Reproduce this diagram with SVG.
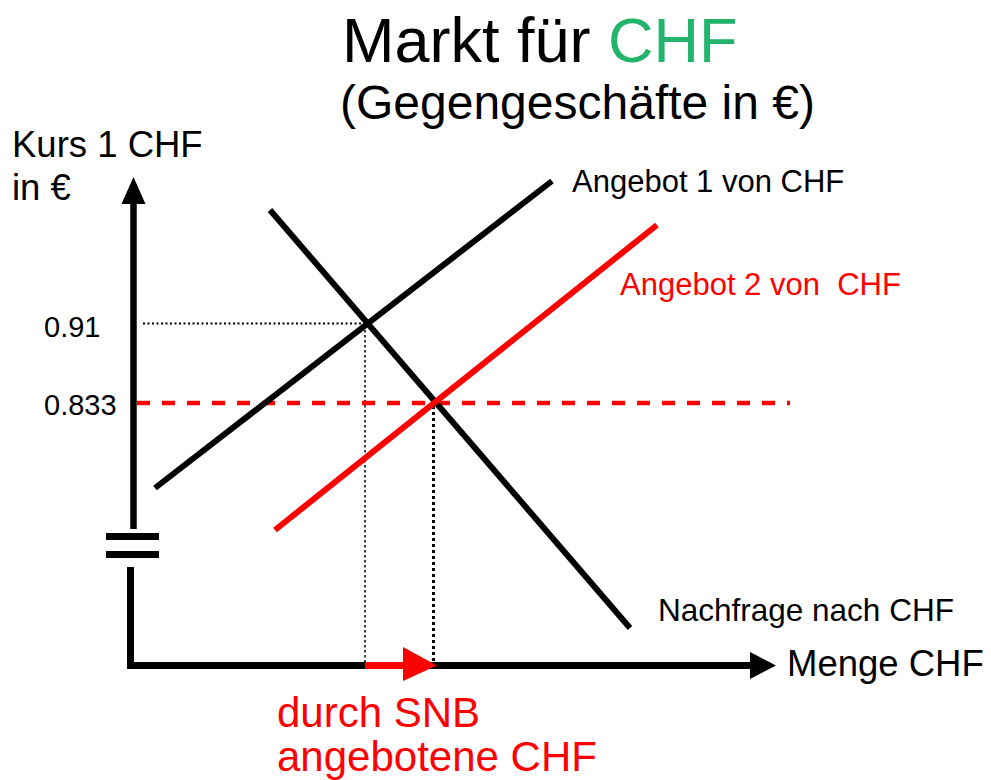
<svg xmlns="http://www.w3.org/2000/svg" width="991" height="780" viewBox="0 0 991 780">
  <style>
    text { font-family: "Liberation Sans", Arial, sans-serif; fill: #000; }
    .red { fill: #FF0000; }
    .green { fill: #22B36C; }
    .curve { stroke: #000; stroke-width: 6; fill: none; }
    .curve-red { stroke: #FF0000; stroke-width: 6; fill: none; }
    .guide { stroke: #000; fill: none; }
  </style>

  <!-- Title -->
  <g id="title">
    <text x="342" y="62" font-size="63">Markt für <tspan class="green">CHF</tspan></text>
    <text x="340" y="119" font-size="48">(Gegengeschäfte in €)</text>
  </g>

  <!-- Axes -->
  <g id="axes">
    <line x1="133.5" y1="200" x2="133.5" y2="529" stroke="#000" stroke-width="6.5"/>
    <polygon points="133.5,177 121.5,204 145.5,204" fill="#000"/>
    <rect x="106" y="533" width="53" height="7" fill="#000"/>
    <rect x="106" y="551" width="53" height="7" fill="#000"/>
    <line x1="130.5" y1="567" x2="130.5" y2="669" stroke="#000" stroke-width="7"/>
    <line x1="127" y1="665.5" x2="752" y2="665.5" stroke="#000" stroke-width="7"/>
    <polygon points="750,652 776,665.5 750,679" fill="#000"/>
  </g>

  <!-- Guide lines -->
  <g id="guides">
    <line class="guide" x1="143" y1="323.5" x2="366" y2="323.5" stroke-width="2" stroke-dasharray="2,2.5"/>
    <line class="guide" x1="365" y1="325" x2="365" y2="662" stroke-width="1.5" stroke-dasharray="2.5,2.5"/>
    <line class="guide" x1="433.5" y1="406" x2="433.5" y2="662" stroke-width="3" stroke-dasharray="3,3"/>
    <line x1="137" y1="403" x2="790" y2="403" stroke="#FF0000" stroke-width="4.5" stroke-dasharray="13,12"/>
  </g>

  <!-- Curves -->
  <g id="connectors">
    <line id="angebot1" class="curve" x1="155" y1="488" x2="552" y2="181"/>
    <line id="nachfrage" class="curve" x1="270" y1="210" x2="630" y2="628"/>
    <line id="angebot2" class="curve-red" x1="275" y1="530" x2="657" y2="225"/>
    <!-- SNB shift along the quantity axis -->
    <rect x="365" y="662" width="40" height="7" fill="#FF0000"/>
    <polygon points="403,647 437,665.5 403,681" fill="#FF0000"/>
  </g>

  <!-- Labels -->
  <g id="labels">
    <text x="12" y="157" font-size="36.5">Kurs 1 CHF</text>
    <text x="12" y="200" font-size="36.5">in €</text>
    <text x="44" y="337" font-size="29">0.91</text>
    <text x="44" y="415" font-size="29">0.833</text>
    <text x="572" y="192" font-size="31">Angebot 1 von CHF</text>
    <text class="red" x="620" y="295" font-size="31">Angebot 2 von&#160; CHF</text>
    <text x="658" y="621" font-size="31.5">Nachfrage nach CHF</text>
    <text x="787" y="676" font-size="36.5">Menge CHF</text>
    <text class="red" x="277" y="727" font-size="42">durch SNB</text>
    <text class="red" x="277" y="771" font-size="42">angebotene CHF</text>
  </g>
</svg>
